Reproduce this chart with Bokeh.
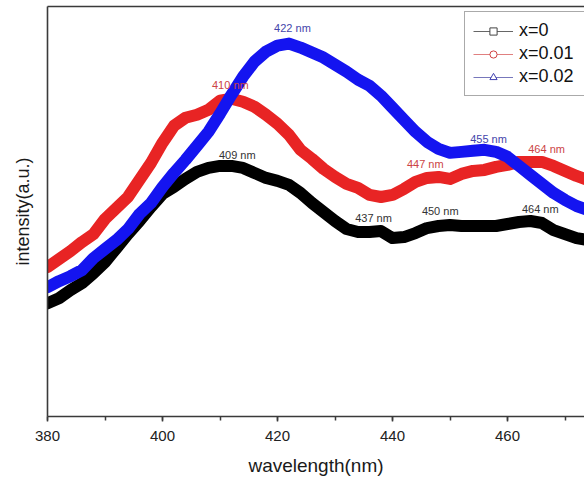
from bokeh.plotting import figure
from bokeh.models import (LinearAxis, FixedTicker, SingleIntervalTicker, Legend,
                          LegendItem, Range1d, ColumnDataSource)
from bokeh.embed import file_html
from bokeh.resources import INLINE
from bokeh.core.properties import value

# ---------------- data ----------------
wavelength = [380, 382, 384, 386, 388, 390, 392, 394, 396, 398, 400, 402, 404, 406,
              408, 410, 412, 414, 416, 418, 420, 422, 424, 426, 428, 430, 432, 434,
              436, 438, 440, 442, 444, 446, 448, 450, 452, 454, 456, 458, 460, 462,
              464, 466, 468, 470, 472, 474]

int_x0 = [111, 116, 124, 131, 141, 152, 166, 180, 193, 207, 220, 227, 235, 242,
          246, 248, 248, 246, 241, 236, 233, 229, 221, 211, 202, 193, 185, 182,
          182, 183, 176, 177, 181, 186, 188, 189, 188, 188, 188, 188, 190, 192,
          193, 191, 184, 180, 176, 174]

int_x001 = [147, 155, 163, 172, 180, 195, 206, 217, 234, 251, 271, 288, 296, 299,
            304, 313, 315, 312, 307, 299, 290, 279, 264, 255, 245, 237, 230, 226,
            219, 217, 219, 225, 232, 236, 237, 235, 240, 243, 244, 247, 249, 252,
            252, 252, 248, 243, 238, 234]

int_x002 = [127, 133, 138, 144, 156, 165, 174, 185, 200, 211, 227, 241, 254, 268,
            282, 300, 319, 337, 352, 362, 368, 370, 366, 361, 356, 349, 342, 334,
            328, 318, 306, 294, 282, 272, 265, 261, 262, 263, 264, 262, 257, 248,
            239, 230, 221, 214, 208, 204]

series_names = ["x=0", "x=0.01", "x=0.02"]

# peak annotations: (text, wavelength position, intensity position)
ann_text_x0 = ["409 nm", "437 nm", "450 nm", "464 nm"]
ann_wl_x0 = [413.0, 436.7, 448.3, 465.7]
ann_int_x0 = [259, 196, 203, 205]

ann_text_x001 = ["410 nm", "447 nm", "464 nm"]
ann_wl_x001 = [411.8, 445.7, 466.8]
ann_int_x001 = [329, 250, 265]

ann_text_x002 = ["422 nm", "455 nm"]
ann_wl_x002 = [422.6, 456.7]
ann_int_x002 = [386, 275]

x_ticks_interval = 20
NAN = float("nan")

# ---------------- figure ----------------
FONT = "Liberation Sans"
AXIS_COLOR = "#3a3a3a"

p = figure(width=584, height=478, output_backend="svg", toolbar_location=None,
           x_range=Range1d(380, 380 + 537 / 5.75), y_range=Range1d(-2, 407),
           min_border_left=47, min_border_right=0, min_border_top=6,
           min_border_bottom=62, background_fill_color="white",
           border_fill_color="white")
p.outline_line_color = None
p.xgrid.visible = False
p.ygrid.visible = False

# x axis
xa = p.xaxis[0]
xa.ticker = SingleIntervalTicker(interval=x_ticks_interval, num_minor_ticks=2)
xa.axis_label = "wavelength(nm)"
xa.axis_label_text_font = FONT
xa.axis_label_text_font_size = "19px"
xa.axis_label_text_font_style = "normal"
xa.axis_label_text_color = "#1a1a1a"
xa.axis_label_standoff = 11
xa.major_label_text_font = FONT
xa.major_label_text_font_size = "15px"
xa.major_label_text_color = "#222222"
xa.major_label_standoff = 9
xa.axis_line_color = AXIS_COLOR
xa.axis_line_width = 1.6
xa.major_tick_line_color = AXIS_COLOR
xa.major_tick_line_width = 1.5
xa.minor_tick_line_color = AXIS_COLOR
xa.minor_tick_line_width = 1.5
xa.major_tick_in = 0
xa.major_tick_out = 5
xa.minor_tick_in = 0
xa.minor_tick_out = 4

# y axis (no ticks)
ya = p.yaxis[0]
ya.ticker = FixedTicker(ticks=[])
ya.axis_label = "intensity(a.u.)"
ya.axis_label_text_font = FONT
ya.axis_label_text_font_size = "18px"
ya.axis_label_text_font_style = "normal"
ya.axis_label_text_color = "#1a1a1a"
ya.axis_label_standoff = 15
ya.major_label_standoff = 0
ya.major_tick_in = 0
ya.major_tick_out = 0
ya.minor_tick_in = 0
ya.minor_tick_out = 0
ya.axis_line_color = AXIS_COLOR
ya.axis_line_width = 1.6

# top border line
top = LinearAxis(ticker=FixedTicker(ticks=[]), major_label_standoff=0,
                 major_tick_in=0, major_tick_out=0, minor_tick_in=0, minor_tick_out=0,
                 axis_line_color=AXIS_COLOR, axis_line_width=1.6)
p.add_layout(top, "above")

# ---------------- curves ----------------
src = ColumnDataSource(dict(wl=wavelength, a=int_x0, b=int_x001, c=int_x002))
LW = 12
p.line("wl", "a", source=src, line_color="#000000", line_width=LW,
       line_join="round", line_cap="round")
p.line("wl", "b", source=src, line_color="#e82424", line_width=LW,
       line_join="round", line_cap="round")
p.line("wl", "c", source=src, line_color="#1414f0", line_width=LW,
       line_join="round", line_cap="round")

# ---------------- annotations ----------------
for txt, xs, ys, col in [(ann_text_x0, ann_wl_x0, ann_int_x0, "#333333"),
                         (ann_text_x001, ann_wl_x001, ann_int_x001, "#cc4444"),
                         (ann_text_x002, ann_wl_x002, ann_int_x002, "#4444aa")]:
    p.text(x=xs, y=ys, text=txt, text_font=value(FONT), text_font_size="11px",
           text_color=col, text_align="center", text_baseline="middle")

# ---------------- legend (renderers with no visible data) ----------------
l0 = p.line(x=[NAN], y=[NAN], line_color="#666666", line_width=1)
m0 = p.scatter(x=[NAN], y=[NAN], marker="square", size=9, line_color="#444444",
               fill_color="white", line_width=1)
l1 = p.line(x=[NAN], y=[NAN], line_color="#e08080", line_width=1)
m1 = p.scatter(x=[NAN], y=[NAN], marker="circle", size=10, line_color="#d04040",
               fill_color="white", line_width=1)
l2 = p.line(x=[NAN], y=[NAN], line_color="#7777bb", line_width=1)
m2 = p.scatter(x=[NAN], y=[NAN], marker="triangle", size=11, line_color="#4040b0",
               fill_color="white", line_width=1)

legend = Legend(items=[LegendItem(label=series_names[0], renderers=[l0, m0]),
                       LegendItem(label=series_names[1], renderers=[l1, m1]),
                       LegendItem(label=series_names[2], renderers=[l2, m2])],
                location=(417, 320), padding=8, spacing=2, margin=0,
                glyph_width=40, glyph_height=18, label_standoff=6,
                label_width=80, label_height=18,
                label_text_font=FONT, label_text_font_size="18px",
                label_text_color="#111111",
                border_line_color="#555555", border_line_width=1,
                background_fill_color="white", background_fill_alpha=1.0)
p.add_layout(legend, "center")

open("out.html", "w").write(file_html(p, INLINE))
